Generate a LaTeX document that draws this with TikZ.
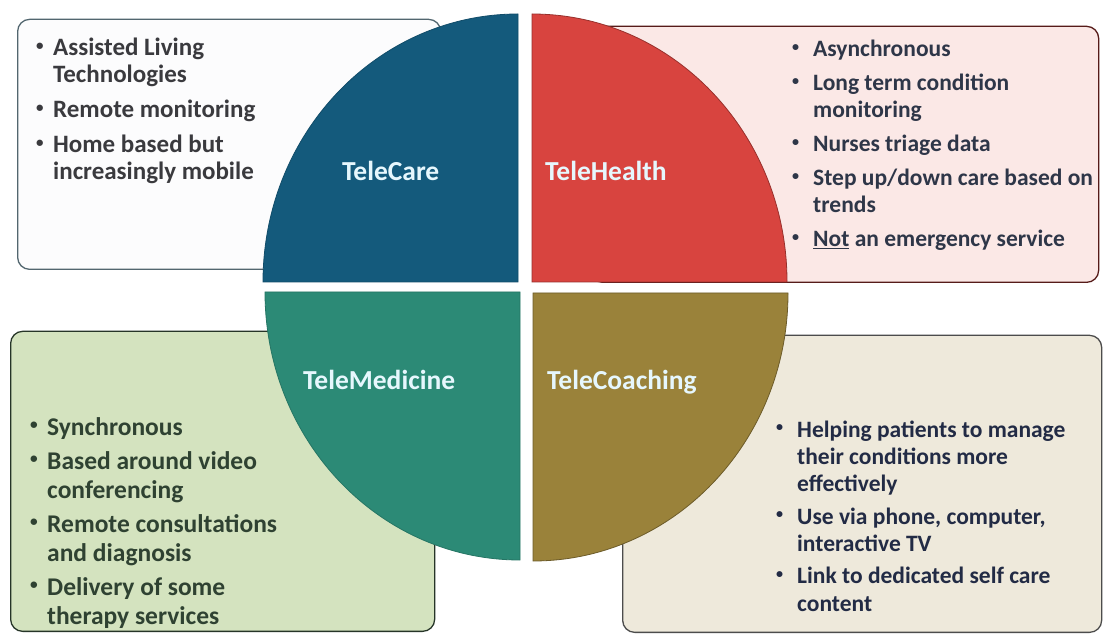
\documentclass[tikz,border=0pt]{standalone}
\usepackage{fontspec}
\setmainfont{Carlito}
\definecolor{careblue}{HTML}{145A7C}
\definecolor{healthred}{HTML}{D8443F}
\definecolor{medteal}{HTML}{2C8A76}
\definecolor{coacholive}{HTML}{9A823A}
\definecolor{carefill}{HTML}{FCFCFD}
\definecolor{healthfill}{HTML}{FBE8E6}
\definecolor{medfill}{HTML}{D4E3BF}
\definecolor{coachfill}{HTML}{EEE9DB}
\definecolor{caretext}{HTML}{3A3A3E}
\definecolor{healthtext}{HTML}{2E3648}
\definecolor{medtext}{HTML}{2F4232}
\definecolor{coachtext}{HTML}{222B45}
% bullet lists: small dot, hanging indent, line breaks inside one item
\newlength\bulletindent
\newcommand\bdot{\raisebox{0.22em}{\scalebox{0.6}{\textbullet}}}
\newcommand\nl{\hfil\break}
\newcommand\bitem[1]{\par\hangindent=\bulletindent\hangafter=1\noindent\makebox[\bulletindent][l]{\bdot}#1}
% #1 indent, #2 font size, #3 line distance, #4 gap between items, #5 items
\newcommand\blist[5]{\parbox[t]{340pt}{\raggedright\fontsize{#2}{#3}\selectfont\bfseries
  \setlength\bulletindent{#1}\setlength\parskip{#4}#5}}
\tikzset{
  infobox/.style={draw, rounded corners=12pt, line width=1.3pt, anchor=south west, inner sep=0pt},
  bullets/.style={anchor=base west, inner sep=0pt},
  quadlabel/.style={text=white!90!cyan, font=\fontsize{27.5}{30}\selectfont\bfseries, inner sep=0pt, anchor=base west},
  quad/.style={line width=0.8pt}
}
\begin{document}
\begin{tikzpicture}[x=1pt,y=1pt]
\useasboundingbox (0,0) rectangle (1105,635);
\fill[white] (0,0) rectangle (1105,635);

% description boxes, partly covered by the circle
\node[infobox, fill=carefill, draw=careblue!40!black!70, minimum width=423pt, minimum height=250pt] (carebox) at (17,365) {};
\node[infobox, fill=healthfill, draw=healthred!40!black, minimum width=508pt, minimum height=256pt] (healthbox) at (590,352) {};
\node[infobox, fill=medfill, draw=medtext!80!black, minimum width=424pt, minimum height=300pt] (medbox) at (10,3) {};
\node[infobox, fill=coachfill, draw=black!70, minimum width=479pt, minimum height=297pt] (coachbox) at (622,2) {};

% the four quadrants of the circle
\filldraw[quad, fill=careblue, draw=careblue!85!black] (518,353) -- ++(-255,0) arc[start angle=180,end angle=90,x radius=255,y radius=268] -- cycle;
\filldraw[quad, fill=healthred, draw=healthred!70!black] (532,353) -- ++(0,268) arc[start angle=90,end angle=0,x radius=255,y radius=268] -- cycle;
\filldraw[quad, fill=medteal, draw=medteal!85!black] (520,343) -- ++(0,-268) arc[start angle=270,end angle=180,x radius=255,y radius=268] -- cycle;
\filldraw[quad, fill=coacholive, draw=coacholive!70!black] (533,342) -- ++(255,0) arc[start angle=0,end angle=-90,x radius=255,y radius=268] -- cycle;

\node[quadlabel] (care) at (342,454) {TeleCare};
\node[quadlabel] (health) at (545,454) {TeleHealth};
\node[quadlabel] (medicine) at (303,245) {TeleMedicine};
\node[quadlabel] (coaching) at (547,245) {TeleCoaching};

% bullet lists
\node[bullets, text=caretext] (caretext) at (36,579) {\blist{17pt}{25}{27}{8pt}{%
  \bitem{Assisted Living\nl Technologies}
  \bitem{Remote monitoring}
  \bitem{Home based but\nl increasingly mobile}}};
\node[bullets, text=healthtext] (healthtext) at (792,578) {\blist{21pt}{23.5}{27}{7pt}{%
  \bitem{Asynchronous}
  \bitem{Long term condition\nl monitoring}
  \bitem{Nurses triage data}
  \bitem{Step up/down care based on\nl trends}
  \bitem{\underline{Not} an emergency service}}};
\node[bullets, text=medtext] (medtext) at (30,200) {\blist{17pt}{25.5}{28.5}{6pt}{%
  \bitem{Synchronous}
  \bitem{Based around video\nl conferencing}
  \bitem{Remote consultations\nl and diagnosis}
  \bitem{Delivery of some\nl therapy services}}};
\node[bullets, text=coachtext] (coachtext) at (776,198) {\blist{21pt}{23.5}{27}{6pt}{%
  \bitem{Helping patients to manage\nl their conditions more\nl effectively}
  \bitem{Use via phone, computer,\nl interactive TV}
  \bitem{Link to dedicated self care\nl content}}};
\end{tikzpicture}
\end{document}
